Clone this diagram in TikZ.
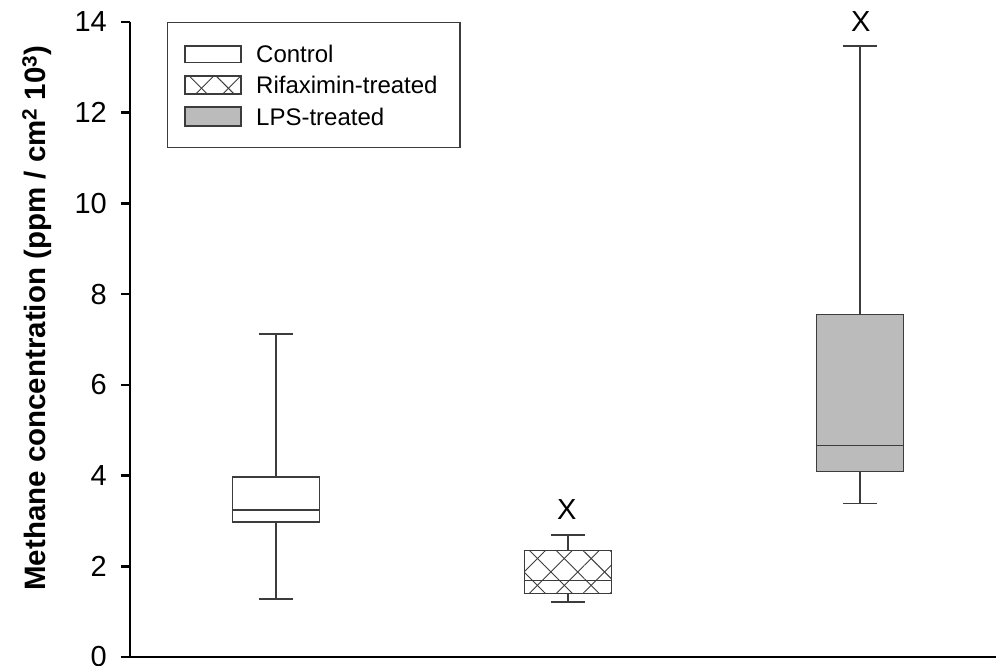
\documentclass[tikz,border=0pt]{standalone}
\usepackage{fontspec}
\setmainfont{Liberation Sans}
\usetikzlibrary{patterns.meta}
\definecolor{boxline}{HTML}{3C3C3C}
\definecolor{lpsgray}{HTML}{BBBBBB}
\newcommand{\ticksize}{\fontsize{29}{31}\selectfont}
\newcommand{\legendsize}{\fontsize{24}{26}\selectfont}
% one box: center, low, q1, median, q3, high, fill style
\newcommand{\myboxplot}[7]{
	\draw[whisk] (#1,#2) -- (#1,#3);
	\draw[whisk] (#1,#5) -- (#1,#6);
	\draw[whisk] (#1-17,#2) -- (#1+17,#2);
	\draw[whisk] (#1-17,#6) -- (#1+17,#6);
	\path[#7] (#1-43.5,#3) rectangle (#1+43.5,#5);
	\draw[whisk] (#1-43.5,#3) rectangle (#1+43.5,#5);
	\draw[whisk] (#1-43.5,#4) -- (#1+43.5,#4);
}

\begin{document}
\begin{tikzpicture}[x=1pt, y=45.36pt]

	\tikzstyle{whisk}=[draw=boxline, line width=1.5pt]
	\tikzstyle{axis}=[draw=black, line width=2.5pt]
	\tikzstyle{plain}=[fill=white]
	\tikzstyle{crossed}=[fill=white,
		postaction={pattern={Lines[angle=45, distance=19pt, line width=0.9pt]}, pattern color=boxline},
		postaction={pattern={Lines[angle=-45, distance=19pt, line width=0.9pt]}, pattern color=boxline}]
	\tikzstyle{shaded}=[fill=lpsgray]
	\tikzstyle{legtext}=[anchor=west, inner sep=0pt, font=\legendsize]

	\useasboundingbox (-130,-0.1984) rectangle (866,14.484);

	% axes
	\draw[axis] (-9,0) -- (866,0);
	\draw[axis] (0,0) -- (0,14);
	\foreach \v in {0,2,...,14}{
		\draw[axis] (-9,\v) -- (0,\v);
		\node[anchor=east, inner sep=0pt, font=\ticksize] (tick\v) at (-23,\v) {\v};
	}
	\node[rotate=90, inner sep=0pt, font=\fontsize{29.5}{31}\selectfont\bfseries] (ylabel) at (-93,7.47)
		{Methane concentration (ppm / cm\textsuperscript{2} 10\textsuperscript{3})};

	% boxes
	\myboxplot{146}{1.28}{2.98}{3.24}{3.97}{7.12}{plain}
	\myboxplot{438}{1.21}{1.40}{1.69}{2.35}{2.69}{crossed}
	\myboxplot{730}{3.38}{4.09}{4.66}{7.55}{13.47}{shaded}

	\node[inner sep=0pt, font=\ticksize] (xrifax) at (436.7,3.24) {X};
	\node[inner sep=0pt, font=\ticksize] (xlps) at (730.7,14.0) {X};

	% legend
	\draw[draw=boxline, line width=1.2pt, fill=white] (37.3,11.23) rectangle (330,13.98);
	\path[plain] (55,13.11) rectangle (111,13.47);
	\draw[whisk] (55,13.11) rectangle (111,13.47);
	\path[crossed] (55,12.41) rectangle (111,12.81);
	\draw[whisk] (55,12.41) rectangle (111,12.81);
	\path[shaded] (55,11.71) rectangle (111,12.12);
	\draw[whisk] (55,11.71) rectangle (111,12.12);
	\node[legtext] (legcontrol) at (126,13.29) {Control};
	\node[legtext] (legrifax) at (126,12.61) {Rifaximin-treated};
	\node[legtext] (leglps) at (126,11.91) {LPS-treated};
\end{tikzpicture}
\end{document}
